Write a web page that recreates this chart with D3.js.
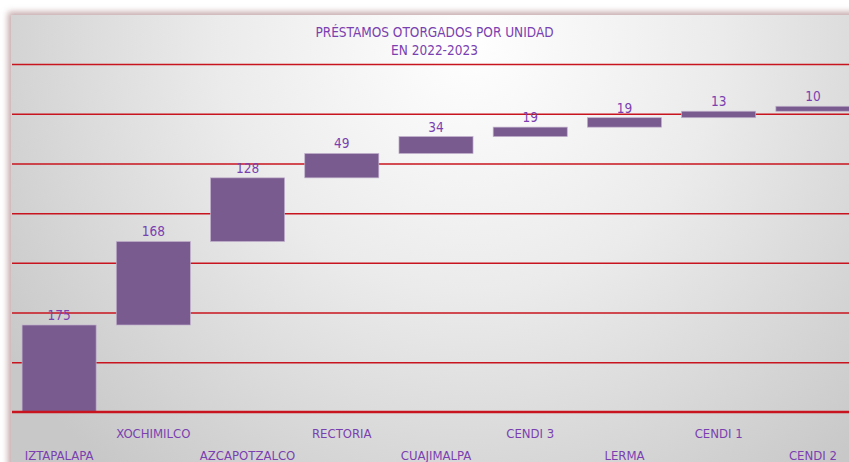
<!DOCTYPE html>
<html>
<head>
<meta charset="utf-8">
<script src="https://cdn.jsdelivr.net/npm/d3@7"></script>
<style>
  html, body { margin: 0; padding: 0; background: #fff; }
  svg { display: block; }
  text { font-family: "Liberation Sans Narrow", "DejaVu Sans Condensed", "Open Sans", sans-serif; fill: #7a3fb0; }
</style>
</head>
<body>
<svg id="chart" width="849" height="462"></svg>
<script>
const titleLines = ["PRÉSTAMOS OTORGADOS POR UNIDAD", "EN 2022-2023"];
const units = ["IZTAPALAPA", "XOCHIMILCO", "AZCAPOTZALCO", "RECTORIA", "CUAJIMALPA", "CENDI 3", "LERMA", "CENDI 1", "CENDI 2"];
const loans = [175, 168, 128, 49, 34, 19, 19, 13, 10];
const gridTicks = [100, 200, 300, 400, 500, 600, 700];

const width = 849, height = 462;
const plot = { left: 12, right: 860, top: 64, bottom: 412 };

// running totals -> floating bars
let acc = 0;
const steps = units.map((name, i) => {
    const start = acc;
    acc += loans[i];
    return { name, value: loans[i], start, end: acc, i };
});

const svg = d3.select("#chart");
const defs = svg.append("defs");

const grad = defs.append("radialGradient")
    .attr("id", "bg")
    .attr("gradientUnits", "userSpaceOnUse")
    .attr("cx", 470).attr("cy", 40).attr("r", 560);
grad.append("stop").attr("offset", 0).attr("stop-color", "#ffffff");
grad.append("stop").attr("offset", 0.45).attr("stop-color", "#ebebeb");
grad.append("stop").attr("offset", 1).attr("stop-color", "#c8c8c8");

const shadow = defs.append("filter").attr("id", "shadow")
    .attr("x", -0.05).attr("y", -0.05).attr("width", 1.1).attr("height", 1.1);
shadow.append("feGaussianBlur").attr("stdDeviation", 3);

// frame with soft shadow
svg.append("rect")
    .attr("x", 8).attr("y", 12).attr("width", width).attr("height", height)
    .attr("fill", "#c4a8aa").attr("filter", "url(#shadow)");
svg.append("rect")
    .attr("x", 11).attr("y", 15).attr("width", width).attr("height", height)
    .attr("fill", "url(#bg)");

const x = d3.scaleBand()
    .domain(units)
    .range([plot.left, plot.right])
    .paddingInner(0.214)
    .paddingOuter(0.107);

const y = d3.scaleLinear()
    .domain([0, 700])
    .range([plot.bottom, plot.top]);

// gridlines
const grid = d3.axisLeft(y).tickValues(gridTicks).tickSize(-(width - plot.left)).tickFormat("");
svg.append("g")
    .attr("transform", `translate(${plot.left},0)`)
    .call(grid)
    .call(g => g.select(".domain").remove())
    .call(g => g.selectAll("line").attr("stroke", "#c8141e").attr("stroke-width", 1.5));

// bars
svg.append("g").selectAll("rect")
    .data(steps)
    .join("rect")
    .attr("x", d => x(d.name))
    .attr("y", d => y(d.end))
    .attr("width", x.bandwidth())
    .attr("height", d => Math.max(2.5, y(d.start) - y(d.end)))
    .attr("fill", "#795b8f")
    .attr("stroke", "#c0b0cc")
    .attr("stroke-width", 0.7);

// value labels
svg.append("g").selectAll("text")
    .data(steps)
    .join("text")
    .attr("x", d => x(d.name) + x.bandwidth() / 2)
    .attr("y", d => y(d.end) - 5)
    .attr("text-anchor", "middle")
    .attr("font-size", 13.5)
    .text(d => d.value);

// x axis line
svg.append("line")
    .attr("x1", plot.left).attr("x2", width)
    .attr("y1", y(0)).attr("y2", y(0))
    .attr("stroke", "#c8141e").attr("stroke-width", 2.5);

// category labels, staggered in two rows
svg.append("g").selectAll("text")
    .data(steps)
    .join("text")
    .attr("x", d => x(d.name) + x.bandwidth() / 2)
    .attr("y", d => d.i % 2 ? 438 : 460)
    .attr("text-anchor", "middle")
    .attr("font-size", 13)
    .text(d => d.name);

// title
svg.append("g").selectAll("text")
    .data(titleLines)
    .join("text")
    .attr("x", 434.5)
    .attr("y", (d, i) => 37 + i * 18)
    .attr("text-anchor", "middle")
    .attr("font-size", 13.5)
    .text(d => d);
</script>
</body>
</html>
